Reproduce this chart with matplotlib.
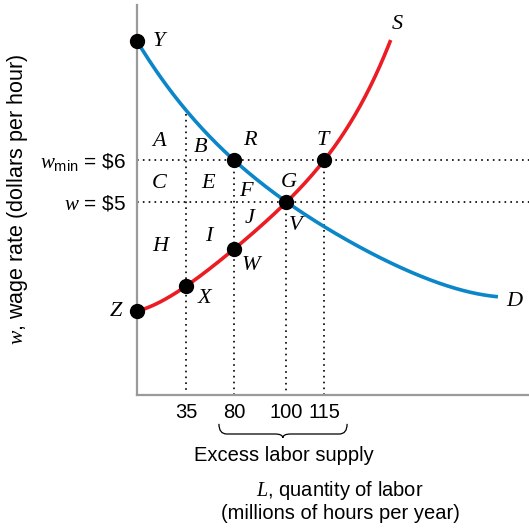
import matplotlib
matplotlib.use("Agg")
import matplotlib.pyplot as plt
import numpy as np
from matplotlib.path import Path
from matplotlib.patches import PathPatch

plt.rcParams['font.family'] = ['Liberation Sans', 'DejaVu Sans']
plt.rcParams['mathtext.fontset'] = 'custom'
plt.rcParams['mathtext.it'] = 'Liberation Serif:italic'
plt.rcParams['mathtext.rm'] = 'Liberation Sans'

# quantity of labor (millions of hours per year) and wage ($ per hour)
demand_L = [0, 10.0, 21.4, 35, 49.1, 64.1, 80, 100, 115, 130.0, 149.8, 169.6, 183.4]
demand_w = [8.83, 8.33, 7.79, 7.10, 6.67, 6.33, 6.0, 5.0, 4.45, 3.90, 3.31, 2.90, 2.74]
supply_L = [0, 17.9, 35, 58.4, 80, 90.8, 100, 115, 123.7, 131.6, 141.1]
supply_w = [2.40, 2.67, 3.0, 3.43, 3.88, 4.45, 5.0, 6.0, 6.71, 7.60, 8.86]

tick_L = [35, 80, 100, 115]
w_min, w_eq = 6, 5

# labelled points
pts_name = ['Y', 'R', 'G', 'T', 'Z', 'X', 'W']
pts_L = [0, 80, 100, 115, 0, 35, 80]
pts_w = [8.83, 6.0, 5.0, 6.0, 2.40, 3.0, 3.88]

# area letters
areas = ['A', 'B', 'C', 'E', 'F', 'J', 'I', 'H', 'V']
areas_L = [15.7, 48.1, 15.7, 55.6, 84.6, 85.8, 56.6, 16.4, 103.6]
areas_w = [6.43, 6.29, 5.45, 5.45, 5.24, 4.60, 4.19, 3.95, 4.45]

blue = '#0a86c9'
red = '#ec1c24'
gray = '#9a9a9a'

# schematic (non-linear) quantity axis
Lk = np.array([0, 35, 80, 100, 115, 250])
uk = np.array([0, 49, 97, 149, 187, 528.5])


def fwd(L):
    return np.interp(L, Lk, uk)


def inv(u):
    return np.interp(u, uk, Lk)


def smooth(Ls, ws, deg=4, anchors=()):
    # least squares polynomial through the read points, in axis display units
    u = fwd(np.array(Ls, float))
    wt = np.ones(len(u))
    for i in anchors:
        wt[i] = 6
    c = np.polyfit(u, ws, deg, w=wt)
    uu = np.linspace(u[0], u[-1], 300)
    return inv(uu), np.polyval(c, uu)


fig = plt.figure(figsize=(5.29, 5.28), dpi=100)
ax = fig.add_axes([137 / 529, 133 / 528, 392 / 529, 390 / 528])
ax.set_xscale('function', functions=(fwd, inv))
xmax = inv(391)
ymin, ymax = 0.405, 9.69
ax.set_xlim(0, xmax)
ax.set_ylim(ymin, ymax)

dot = dict(color='black', lw=1.2, linestyle=(0, (1, 2.5)), zorder=1)
ax.axhline(w_min, **dot)
ax.axhline(w_eq, **dot)
ax.plot([35, 35], [demand_w[3], ymin], **dot)
for L, w in zip(pts_L[1:4], pts_w[1:4]):
    ax.plot([L, L], [w, ymin], **dot)

x, y = smooth(demand_L, demand_w, 4, anchors=(0, 6, 7))
ax.plot(x, y, color=blue, lw=2.6, solid_capstyle='butt', zorder=2)
x, y = smooth(supply_L, supply_w, 4, anchors=(0, 2, 4, 6, 7))
ax.plot(x, y, color=red, lw=2.6, solid_capstyle='butt', zorder=3)

ax.plot(pts_L, pts_w, 'o', color='black', ms=10, zorder=5, clip_on=False)

letter = dict(family='Liberation Serif', style='italic', fontsize=16,
              ha='center', va='center')
offsets = {'Y': (16, 0), 'R': (11, 14), 'G': (2, 14), 'T': (-1, 14),
           'Z': (-15, 0), 'X': (13, -9), 'W': (12, -12)}
for name, L, w in zip(pts_name, pts_L, pts_w):
    ax.annotate(name, (L, w), xytext=offsets[name], textcoords='offset points',
                annotation_clip=False, **letter)
ax.annotate('S', (supply_L[-1], supply_w[-1]), xytext=(5, 11),
            textcoords='offset points', **letter)
ax.annotate('D', (demand_L[-1], demand_w[-1]), xytext=(12, -3),
            textcoords='offset points', **letter)
for name, L, w in zip(areas, areas_L, areas_w):
    ax.text(L, w, name, **letter)

for side in ['top', 'right']:
    ax.spines[side].set_visible(False)
for side in ['left', 'bottom']:
    ax.spines[side].set_color(gray)
    ax.spines[side].set_linewidth(1.6)

ax.set_xticks(tick_L)
ax.set_xticklabels([str(v) for v in tick_L], fontsize=14.5)
ax.set_yticks([w_eq, w_min])
ax.set_yticklabels([r'$w$ = \$5', r'$w_{\mathrm{min}}$ = \$6'], fontsize=15)
ax.tick_params(length=0, pad=6)
ax.tick_params(axis='y', pad=8)

ax.text(-0.304, 0.5, r'$w$, wage rate (dollars per hour)', transform=ax.transAxes,
        rotation=90, ha='center', va='center', fontsize=15.5)
ax.text(0.375, -0.154, 'Excess labor supply', transform=ax.transAxes,
        ha='center', va='center', fontsize=14.5)
ax.text(0.518, -0.246, r'$L$, quantity of labor', transform=ax.transAxes,
        ha='center', va='center', fontsize=14.5)
ax.text(0.518, -0.303, '(millions of hours per year)', transform=ax.transAxes,
        ha='center', va='center', fontsize=14.5)

# curly brace under the excess supply
xl, xc, xr = 0.209, 0.372, 0.536
yt, ym, yb = -0.074, -0.10, -0.110
r = 0.02
verts = [(xl, yt), (xl, ym), (xl + r, ym), (xc - r, ym), (xc, ym), (xc, yb),
         (xc, ym), (xc + r, ym), (xr - r, ym), (xr, ym), (xr, yt)]
codes = [Path.MOVETO, Path.CURVE3, Path.CURVE3, Path.LINETO, Path.CURVE3, Path.CURVE3,
         Path.CURVE3, Path.CURVE3, Path.LINETO, Path.CURVE3, Path.CURVE3]
ax.add_patch(PathPatch(Path(verts, codes), transform=ax.transAxes, fill=False,
                       lw=0.9, color='black', clip_on=False))

fig.savefig('out.png', dpi=100)
